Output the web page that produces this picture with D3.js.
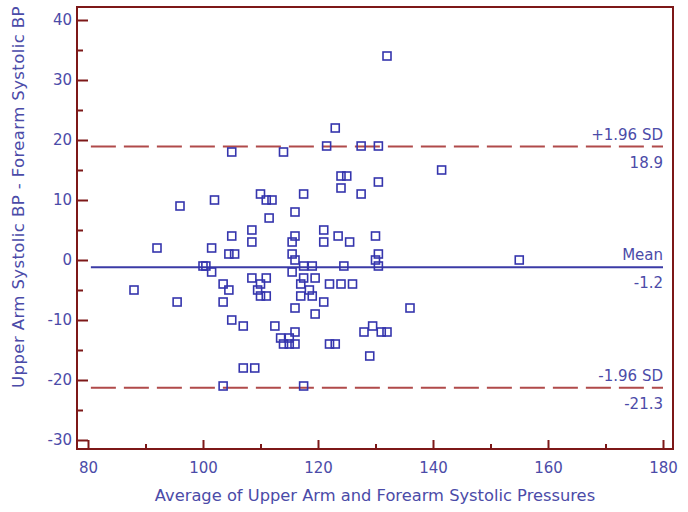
<!DOCTYPE html>
<html>
<head>
<meta charset="utf-8">
<script src="https://cdn.jsdelivr.net/npm/d3@7"></script>
<style>
body { margin: 0; background: #fff; }
text { font-family: "DejaVu Sans", sans-serif; }
</style>
</head>
<body>
<div id="chart"></div>
<script>
// average of the two systolic readings (x) and their difference (y)
var avgBP = [132, 123, 105, 114, 121.5, 127.5, 130.5, 141.5, 124, 125,
  124, 130.5, 127.5, 110, 111, 112, 117.5, 111.5, 116, 96,
  102, 105, 108.5, 108.5, 92, 101.5, 104.5, 105.5, 100, 100.5,
  101.5, 88, 95.5, 103.5, 104.5, 103.5, 105, 107, 108.5, 109.5,
  110, 111, 111, 110, 107, 109, 103.5, 116, 115.5, 121,
  121, 123.5, 125.5, 130, 115.5, 116, 130.5, 130, 130.5, 117.5,
  119, 124.5, 115.5, 117.5, 119.5, 117, 122, 124, 126, 118.5,
  117, 119, 121, 116, 119.5, 136, 112.5, 113.5, 115, 116,
  114, 115, 116, 122, 123, 128, 129.5, 131, 132, 129,
  117.5, 155];
var diffBP = [34, 22, 18, 18, 19, 19, 19, 15, 14, 14,
  12, 13, 11, 11, 10, 10, 11, 7, 8, 9,
  10, 4, 5, 3, 2, 2, 1, 1, -1, -1,
  -2, -5, -7, -4, -5, -7, -10, -11, -3, -5,
  -6, -6, -3, -4, -18, -18, -21, 4, 3, 5,
  3, 4, 3, 4, 1, 0, 1, 0, -1, -1,
  -1, -1, -2, -3, -3, -4, -4, -4, -4, -5,
  -6, -6, -7, -8, -9, -8, -11, -13, -13, -12,
  -14, -14, -14, -14, -14, -12, -11, -12, -12, -16,
  -21, 0];

var xMajor = [80, 100, 120, 140, 160, 180];
var xMinor = [90, 110, 130, 150, 170];
var yMajor = [-30, -20, -10, 0, 10, 20, 30, 40];
var yMinor = [-25, -15, -5, 5, 15, 25, 35];

var limitNames = ['+1.96 SD', 'Mean', '-1.96 SD'];
var limitValues = [18.9, -1.2, -21.3];

var W = 688, H = 512;
var frame = { left: 77, right: 673, top: 7, bottom: 449 };
var textBlue = '#4b4ba8';
var darkRed = '#7d1818';

var svg = d3.select('#chart').append('svg')
  .attr('width', W)
  .attr('height', H);

var x = d3.scaleLinear().domain([80, 180]).range([88, 663]);
var y = d3.scaleLinear().domain([-30, 40]).range([440, 20]);

// plain hyphen for negatives, like the original
var plain = function(d) { return String(d); };

// inward ticks, minor first
svg.append('g')
  .attr('transform', 'translate(' + frame.left + ',0)')
  .call(d3.axisLeft(y).tickValues(yMinor).tickSize(-6).tickFormat(''))
  .call(function(g) { g.select('.domain').remove(); });
svg.append('g')
  .attr('transform', 'translate(' + frame.left + ',0)')
  .call(d3.axisLeft(y).tickValues(yMajor).tickSize(-11).tickPadding(5).tickFormat(plain))
  .call(function(g) { g.select('.domain').remove(); });
svg.append('g')
  .attr('transform', 'translate(0,' + frame.bottom + ')')
  .call(d3.axisBottom(x).tickValues(xMinor).tickSize(-5).tickFormat(''))
  .call(function(g) { g.select('.domain').remove(); });
svg.append('g')
  .attr('transform', 'translate(0,' + frame.bottom + ')')
  .call(d3.axisBottom(x).tickValues(xMajor).tickSize(-9).tickPadding(13).tickFormat(plain))
  .call(function(g) { g.select('.domain').remove(); });

svg.selectAll('.tick line')
  .attr('stroke', darkRed)
  .attr('stroke-width', 2);
svg.selectAll('.tick text')
  .attr('fill', textBlue)
  .style('font-size', '15px');

// limits of agreement
var lines = svg.append('g');
lines.selectAll('line')
  .data(limitValues)
  .enter()
  .append('line')
    .attr('x1', x(80.5))
    .attr('x2', x(180))
    .attr('y1', function(d) { return y(d); })
    .attr('y2', function(d) { return y(d); })
    .attr('stroke', function(d, i) { return i == 1 ? '#3b3ba6' : '#b04a4a'; })
    .attr('stroke-width', 2)
    .attr('stroke-dasharray', function(d, i) { return i == 1 ? null : '25,8'; });

lines.selectAll('text.name')
  .data(limitValues)
  .enter()
  .append('text')
    .attr('class', 'name')
    .attr('x', x(180))
    .attr('y', function(d) { return y(d) - 7; })
    .attr('text-anchor', 'end')
    .attr('fill', textBlue)
    .style('font-size', '15px')
    .text(function(d, i) { return limitNames[i]; });

lines.selectAll('text.value')
  .data(limitValues)
  .enter()
  .append('text')
    .attr('class', 'value')
    .attr('x', x(180))
    .attr('y', function(d) { return y(d) + 21; })
    .attr('text-anchor', 'end')
    .attr('fill', textBlue)
    .style('font-size', '15px')
    .text(function(d) { return d.toFixed(1); });

// points
svg.append('g').selectAll('rect')
  .data(avgBP)
  .enter()
  .append('rect')
    .attr('x', function(d) { return x(d) - 4; })
    .attr('y', function(d, i) { return y(diffBP[i]) - 4; })
    .attr('width', 8)
    .attr('height', 8)
    .attr('fill', 'none')
    .attr('stroke', '#3535ad')
    .attr('stroke-width', 1.6);

// frame
svg.append('rect')
  .attr('x', frame.left)
  .attr('y', frame.top)
  .attr('width', frame.right - frame.left)
  .attr('height', frame.bottom - frame.top)
  .attr('fill', 'none')
  .attr('stroke', darkRed)
  .attr('stroke-width', 2);

svg.append('text')
  .attr('x', 375)
  .attr('y', 501)
  .attr('text-anchor', 'middle')
  .attr('fill', textBlue)
  .style('font-size', '16.3px')
  .text('Average of Upper Arm and Forearm Systolic Pressures');

svg.append('text')
  .attr('transform', 'translate(24,197) rotate(-90)')
  .attr('text-anchor', 'middle')
  .attr('fill', textBlue)
  .style('font-size', '16.5px')
  .style('letter-spacing', '0.4px')
  .text('Upper Arm Systolic BP - Forearm Systolic BP');
</script>
</body>
</html>
